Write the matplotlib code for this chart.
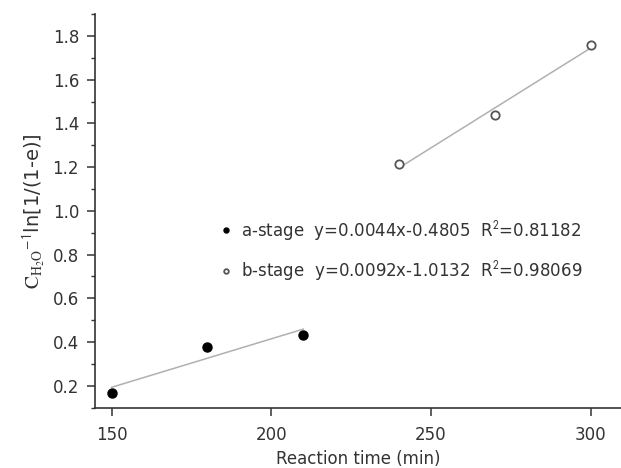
import numpy as np
import matplotlib
matplotlib.use("Agg")
import matplotlib.pyplot as plt
from matplotlib.ticker import MultipleLocator

plt.rcParams['font.family'] = ['DejaVu Sans']
plt.rcParams['mathtext.fontset'] = 'stix'

# data
a_time = [150, 180, 210]
a_value = [0.168, 0.376, 0.434]
b_time = [240, 270, 300]
b_value = [1.212, 1.44, 1.76]
a_label = "a-stage  y=0.0044x-0.4805  R$^{\\mathsf{2}}$=0.81182"
b_label = "b-stage  y=0.0092x-1.0132  R$^{\\mathsf{2}}$=0.98069"
x_ticks = [150, 200, 250, 300]
y_ticks = [0.2, 0.4, 0.6, 0.8, 1.0, 1.2, 1.4, 1.6, 1.8]

txt = '#333333'
fig = plt.figure(figsize=(6.21, 4.68), dpi=100)
ax = fig.add_axes([0.153, 0.129, 0.847, 0.841])

# fit lines
for xs, ys in ((a_time, a_value), (b_time, b_value)):
    k, b = np.polyfit(xs, ys, 1)
    xx = np.array([min(xs), max(xs)])
    ax.plot(xx, k * xx + b, color='#b0b0b0', lw=1.1, zorder=1)

ax.plot(a_time, a_value, 'o', ms=6.5, color='black', mec='black', label=a_label, zorder=3)
ax.plot(b_time, b_value, 'o', ms=6, mfc='white', mec='#555555', mew=1.3, label=b_label, zorder=3)

ax.set_xlim(144.8, 309.5)
ax.set_ylim(0.1, 1.9)
ax.set_xticks(x_ticks)
ax.set_yticks(y_ticks)
ax.set_yticklabels([f"{v:.1f}" for v in y_ticks])
ax.yaxis.set_minor_locator(MultipleLocator(0.1))

for s in ('top', 'right'):
    ax.spines[s].set_visible(False)
for s in ('left', 'bottom'):
    ax.spines[s].set_color('#333333')
    ax.spines[s].set_linewidth(1.2)

ax.tick_params(which='major', length=5.5, width=1.1, color='#333333', labelsize=12, labelcolor=txt)
ax.tick_params(axis='x', which='major', pad=8)
ax.tick_params(axis='y', which='major', pad=6)
ax.tick_params(which='minor', length=3, width=1.0, color='#333333')

ax.set_xlabel('Reaction time (min)', fontsize=12, color=txt, labelpad=4)
ax.set_ylabel(r'$\mathrm{C_{H_2O}}^{\mathsf{-1}}$ln[1/(1-e)]', fontsize=14, color=txt, labelpad=4)

leg = ax.legend(loc='upper left', bbox_to_anchor=(0.24, 0.48), frameon=False,
                fontsize=12, markerscale=0.55, handlelength=0.6, handletextpad=0.6,
                labelspacing=1.0, borderpad=0, borderaxespad=0)
for t in leg.get_texts():
    t.set_color(txt)

fig.savefig('out.png', dpi=100)
